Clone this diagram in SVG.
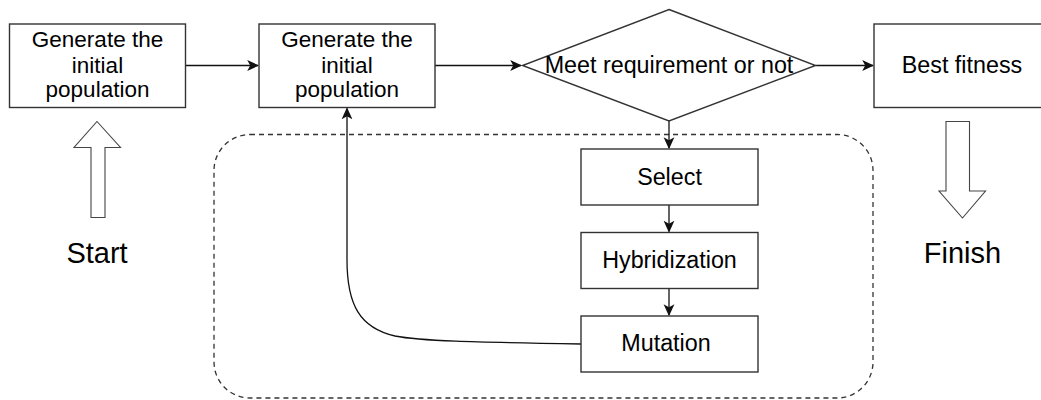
<svg xmlns="http://www.w3.org/2000/svg" width="1041" height="400" viewBox="0 0 1041 400">
<style>
.box{fill:#fff;stroke:#333;stroke-width:1.4}
.big{fill:#fff;stroke:#444;stroke-width:1.1}
.t{font-family:"Liberation Sans",Arial,sans-serif;fill:#000;text-anchor:middle}
.s21{font-size:22.5px}
.s23{font-size:23.3px}
.s28{font-size:29px}
.c{fill:none;stroke:#111;stroke-width:1.3}
</style>
<defs>
<marker id="ah" viewBox="0 0 10 10" refX="9" refY="5" markerWidth="12" markerHeight="12" markerUnits="userSpaceOnUse" orient="auto">
<path d="M0,0.5 L10,5 L0,9.5 L2.5,5 z" fill="#111"/>
</marker>
</defs>
<rect x="214" y="134.5" width="659" height="263.5" rx="36" ry="36" fill="none" stroke="#333" stroke-width="1.3" stroke-dasharray="5 4"/>
<g id="connectors">
<path class="c" d="M185.5,65.5 L258,65.5" marker-end="url(#ah)"/>
<path class="c" d="M435,65.5 L521,65.5" marker-end="url(#ah)"/>
<path class="c" d="M815.5,65.5 L873,65.5" marker-end="url(#ah)"/>
<path class="c" d="M669,121 L669,148" marker-end="url(#ah)"/>
<path class="c" d="M669,205 L669,231.5" marker-end="url(#ah)"/>
<path class="c" d="M669,288.5 L669,315" marker-end="url(#ah)"/>
<path class="c" d="M581,344 C470,342 420,341 395,336 C360,328 347,305 347,260 L347,108.5" marker-end="url(#ah)"/>
</g>
<g id="gen1">
<rect class="box" x="9.5" y="24" width="176" height="83.5"/>
<text class="t s21" x="97.5" y="46.7">Generate the</text>
<text class="t s21" x="97.5" y="72.5">initial</text>
<text class="t s21" x="97.5" y="97.3">population</text>
</g>
<g id="gen2">
<rect class="box" x="259" y="24" width="176" height="83.5"/>
<text class="t s21" x="347" y="46.7">Generate the</text>
<text class="t s21" x="347" y="72.5">initial</text>
<text class="t s21" x="347" y="97.3">population</text>
</g>
<g id="decision">
<polygon class="box" points="669,9.5 815.5,65.5 669,121 522.5,65.5"/>
<text class="t s23" x="669" y="73">Meet requirement or not</text>
</g>
<g id="best">
<rect class="box" x="874" y="24" width="176" height="83.5"/>
<text class="t s23" x="962" y="73">Best fitness</text>
</g>
<g id="select">
<rect class="box" x="581" y="149" width="177" height="56"/>
<text class="t s23" x="669.5" y="184.5">Select</text>
</g>
<g id="hybrid">
<rect class="box" x="581" y="232.5" width="177" height="56"/>
<text class="t s23" x="669.5" y="267.5">Hybridization</text>
</g>
<g id="mutation">
<rect class="box" x="581" y="316" width="177" height="56"/>
<text class="t s23" x="666" y="351">Mutation</text>
</g>
<g id="start">
<polygon class="big" points="97,121.5 120.5,147.5 105,147.5 105,217.5 91,217.5 91,147.5 74,147.5"/>
<text class="t s28" x="97" y="263">Start</text>
</g>
<g id="finish">
<polygon class="big" points="946,121.5 969.5,121.5 969.5,191 985.5,191 962.5,218 939,191 946,191"/>
<text class="t s28" x="962.5" y="263">Finish</text>
</g>
</svg>
